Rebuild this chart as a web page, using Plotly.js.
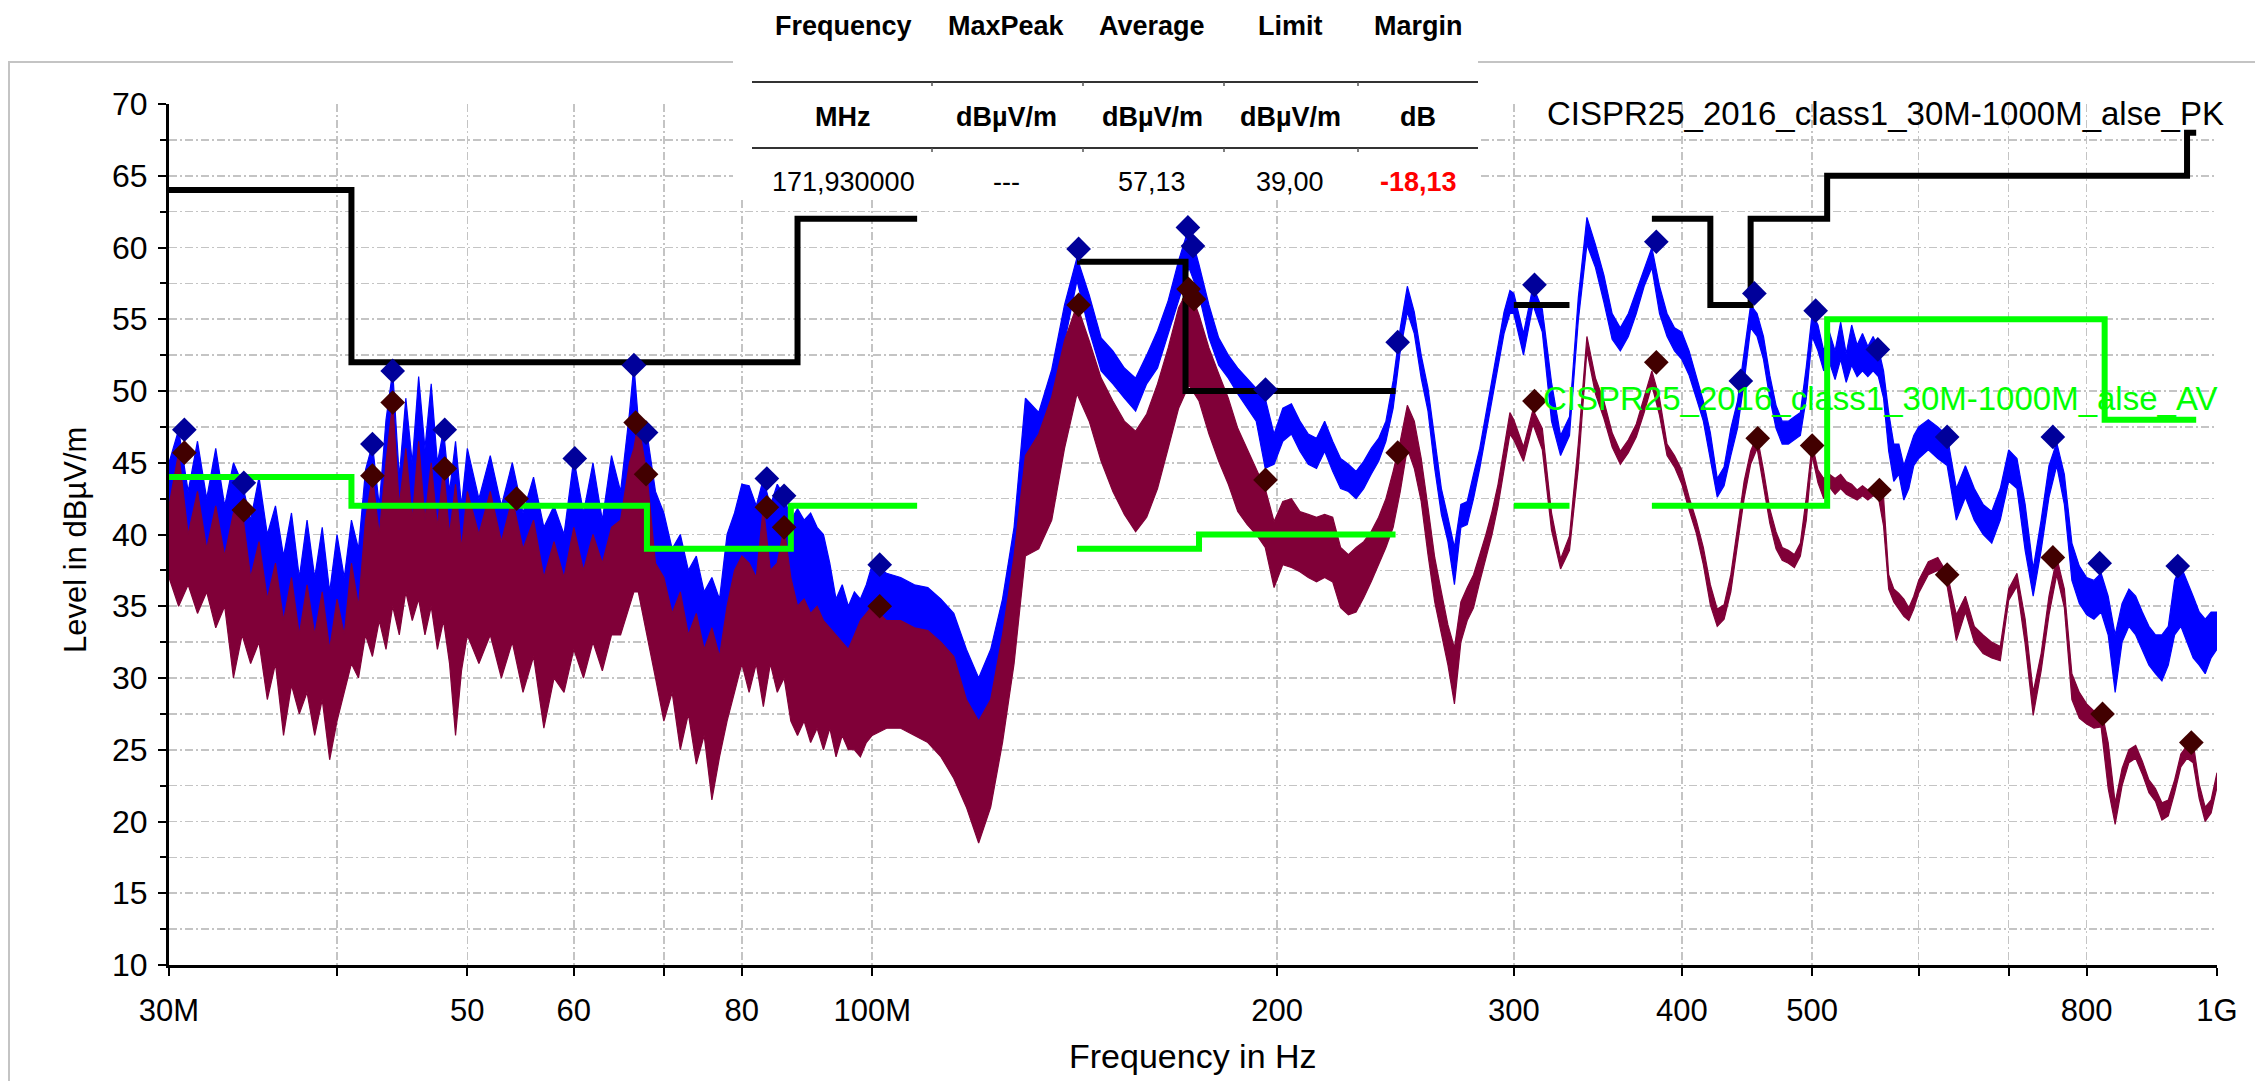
<!DOCTYPE html>
<html><head><meta charset="utf-8">
<script src="https://cdn.plot.ly/plotly-3.0.1.min.js"></script>
<style>html,body{margin:0;padding:0;background:#fff;}#chart{width:2255px;height:1081px;}</style>
</head><body><div id="chart"></div>
<script>
// ---------------- DATA (frequency in MHz, level in dBµV/m) ----------------
// Low-frequency segment 30-130 MHz
const freqLF = [30,30.5,31,31.5,32,32.5,33,33.5,34,34.5,35,35.5,36,36.5,37,37.5,38,38.5,39,39.5,40,40.5,41,41.5,42,42.5,43,43.5,44,44.5,45,45.5,46,46.5,47,47.5,48,48.5,49,49.5,50,
51,52,53,54,55,56,57,58,59,60,61,62,63,64,65,66,66.5,67,68,69,70,71,72,73,74,75,76,77,78,79,80,
81,82,83,84,85,86,87,88,89,90,91,92,93,94,95,96,97,98,99,100,
102.5,105,107.5,110,112.5,115,117.5,120,122.5,125,127.5,130];
const peakHiLF = [45,47.3,43,46.5,42.5,46,42,45,43.6,41,44,40,42,38.5,41.5,37,41,37,40.5,36,40,37,41,39,44.5,46.3,42,48,51.4,44,49.5,45,51,46,50.5,45,47.3,43,46.5,42,46,
42.5,45.5,42,45,41.5,44,40.5,42,40,45.3,41.5,45,41,45.5,43,48.5,51.8,48,47.1,43,41.5,39,40,37.5,38.5,36,37,35.5,40,41.5,43.5,
43.4,42,43.9,42,43.5,42.7,41,41.8,41,41.5,40.5,40,38,35.5,36.5,35,36,35.5,36.5,37.9,
37.3,37,36.5,36.3,35.5,34.5,32,30,32,35.5,40.5,49.5];
const peakLoLF = [40,40,39,39,38,38,37,37,36,36,35,34,33,32.5,32,32,32,31.5,31,31,31,32,33,34,35,36,37,38,38,38,38,37,37,37,36,36,36,35,35,35,35,
35,35,34.5,34,34,34,33.5,33,34,35,35,35,35.5,36,37,38,39,39,38,36,35,33.5,33,32,31.5,31,31,30.8,32,34,36,
36,36,36,36,35.5,35.5,35,34.5,34,33.5,33,32.5,32,31.5,31.5,31.5,32,32.5,33,33.5,
33.5,33.3,33,32.8,32,31,28.5,26.8,28.5,32.5,37.5,45.5];
const avgHiLF = [42,45.7,40,43,39,42,38.5,41.5,41.7,37,39.5,35.5,38,34,37,33,36.5,33,36,32,35.5,33,38,35,41,44.1,40,45,49.2,42,46,41,46.5,41,45,40.5,44.6,40,43.5,39,43,
40,43,39.5,42.5,39,41,37,39.5,37,40.5,37.5,40,38,40.5,41,45,46,47.8,44.2,38,37,34.5,36,33,34.5,32,33.5,31.5,35,37.5,38.5,
38,37,41.9,37.5,38,40.5,37,35,35.5,34.5,35,34,33.5,33,32.5,32,33,34,34.5,35,
34,34,33.5,33.3,32.5,31.5,28.5,27,28.5,33,38.5,45.5];
const avgLoLF = [37,35,36.5,34.5,36,33.5,35,30,33,31,32.5,28.5,31,26,29.5,27.5,29,26,28.5,24.3,27,29,31,30,33,31.5,34,32,35,33,36,34,35.5,33,35,32,34,31,26,30.5,33,
31,33,30,32.5,29,31.5,26.5,30,29,32,30,32.5,30.5,33,33,35,36,36,33,30,27,29,25,27.5,24,26,21.5,24.5,27,29,31,
29,31,28,31,29,30,27,26,27,25.5,26.5,25,26.5,24.5,26,25,25,24.5,25.5,26,
26.5,26.5,26,25.5,24.5,23,21,18.5,21,25.5,31,38.5];

// Mid segment 133-298 MHz
const freqMF = [133,136,139,142,145,148,151,154,157,160,163,166,169,172,175,178,181,184,187,190,193,196,199,202,205,208,211,214,217,220,223,226,229,232,235,238,241,244,247,250,253,256,259,262,265,268,271,274,277,280,283,286,289,292,295,298];
const peakHiMF = [48.5,51.5,56,59.3,56.7,53.7,52.8,51.6,50.9,52.5, 54.2,56.3,59.1,61.4,58.8,56,53.7,52.5,51.6,50.9, 50.2,49.5,47,48.8,49.1,47.9,47,46.7,47.9,46.5, 45.3,44.9,44.4,45.1,46,46.7,47.9,50.7,54.4,57.3, 55.5,52.5,50.2,46.7,43.2,41.2,39.1,42.1,42.3,44.2, 46,48.4,50.7,53,55.5,57];
const peakLoMF = [46.5,49,53.5,57.7,54.2,51.4,50.5,49.5,48.6,50.5, 51.6,53.9,56.3,58.6,56.7,53.7,51.8,50.9,49.8,48.8, 47.9,44.6,44.9,46.5,47,45.8,44.9,44.6,45.8,44.4, 43.2,43,42.5,43.2,44.2,45.1,46.5,48.8,52.8,55.5, 54,50.9,48.6,44.6,41.4,39.5,36.5,40.5,40.7,42.5, 44.6,47,49.3,51.6,54,55.4];
const avgHiMF = [47,49.6,53.5,56,53.5,50.9,49.3,47.9,47.2,48.4, 50.5,53,55.8,57.2,55.3,53,51.2,49.5,47.4,46, 44.6,43.2,40.9,42.3,42.5,41.6,41.4,41.2,41.4,41.2, 39.1,38.6,39.1,39.5,40.2,41.2,42.5,44.4,46.5,49, 47.9,45.3,41.9,38.4,36,33.7,32.1,35.3,36.3,37.2, 38.6,40,41.6,43.5,46,48.5];
const avgLoMF = [39,41,46,49.8,47.9,45.1,43,41.4,40.2,41.2, 43.2,46,48.8,50.4,49.3,47,45.1,43.5,41.6,40.7, 40,39.1,36.3,37.9,37.7,37.4,37,36.7,37,36.7, 34.9,34.4,34.6,35.6,36.7,37.9,39.1,40.5,43,46, 44.6,42.3,38.6,35.3,33.2,30.9,28.2,32.5,34,34.9, 36.7,38.4,40,42,44.5,47];

// High segment 300-600 MHz
const freqHF1 = [300,305,310,315,320,325,330,335,340,345,350,355,360,365,370,375,380,385,390,395,400,405,410,415,420,425,430,435,440,445,450,455,460,465,470,475,480,485,490,495,500,505,510,515,520,525,530,535,540,545,550,555,560,565,570,575,580,585,590,595,600];
const peakHiHF1 = [56.8,54,57.3,55.7,50.6,46.9,48.2,56.5,62.1,60.2, 58.1,55.4,54.4,55.4,57,58.6,60,57.3,55.4,54.4, 54.1,52.8,51.1,49.3,47.1,43.9,44.7,47.4,49.3,52.8, 56,55.4,53.8,51.1,49,47.9,47.9,48.2,48.5,51.7, 55.4,54.6,52.8,54.1,52.8,54.8,52.6,54.6,53.2,54, 53.1,53.8,53,51.4,48.5,46.3,46.3,44.8,45.9,46.9, 47.5];
const peakLoHF1 = [55.4,52.5,56,54.1,47.9,45.5,46.9,54.9,60.2,58.6, 56.2,53.6,52.8,53.8,55.4,57.3,58.6,55.4,53.8,52.8, 52.2,51.1,49.5,47.9,45.3,42.6,43.4,45.5,47.4,50.6, 54.4,53.8,52.2,49.5,47.4,46.3,46.3,46.6,46.9,49.5, 53.8,52.8,51.4,52,50.8,52.2,50.6,51.8,51,51.4, 51,51.4,51,49.5,45.8,43.7,44.2,42.4,43.2,44.8, 45.3];
const avgHiHF1 = [48,46.1,48.7,47.4,41.5,38.3,39.9,46.3,53.8,50.9, 49.3,47.1,45.8,46.6,47.7,49.5,51.4,49.5,46.3,45.5, 44.5,42.6,41,39.1,36.5,34.8,35.1,37.2,40.5,43.7, 45.8,46.9,44.5,41.8,40.2,39.1,38.9,38.6,39.4,42.6, 46.3,44.5,43.9,44.2,43.9,44.2,43.7,43.5,43.1,43.4, 43.1,43.4,43.4,42.6,37.2,36.2,35.9,35.5,34.9,35.7, 36.8];
const avgLoHF1 = [46.6,45.1,47.7,45.9,40.3,37.6,38.9,44.6,52.8,49.8, 48.1,46.1,44.9,45.7,46.8,48.5,50.4,48.3,45.5,44.7, 43.5,41.7,40.1,37.9,35.1,33.6,34.1,36,39.3,42.5, 44.9,46,43.4,40.8,39,38.2,38,37.7,38.5,41, 45.5,43.6,42.5,43.3,42.8,43.2,42.8,42.6,42.4,42.7, 42.4,42.7,42.6,40.6,36.2,35.3,34.8,34.3,34,34.8, 35.9];

// High segment 610-1000 MHz
const freqHF2 = [610,620,630,640,650,660,670,680,690,700,710,720,730,740,750,760,770,780,790,800,810,820,830,840,850,860,870,880,890,900,910,920,930,940,950,960,970,980,990,1000];
const peakHiHF2 = [48,47.5,46.9,43.2,44.8,43.2,42.1,41.6,43.2,45.9, 45.3,42.1,37.6,41,44.8,46.4,44.2,39.4,37.8,37, 36.8,37.3,35.7,33,35.2,36.2,35.7,34.6,33.6,33, 33,33.6,36.8,37.8,36.8,35.7,34.6,34.1,34.6,34.6];
const peakLoHF2 = [45.9,45.3,44.8,41,42.6,41,40,39.4,41,43.7, 43.2,38.9,35.7,38.9,42.6,44.8,42.1,36.8,35.2,34.4, 34.1,34.6,33,29,32.5,33.6,33,32,30.9,30.3, 29.8,30.9,33,33.6,32.5,31.4,30.9,30.3,31.4,32];
const avgHiHF2 = [38.1,38.4,37.3,34.4,35.7,33.6,33,32.5,32.2,36.2, 37.3,34.1,29,31.7,35.7,38.4,36.2,30.3,29,28.2, 27.7,27.9,25.5,21.3,23.7,25,25.3,24.2,22.9,22.3, 21.3,21.5,22.9,24.7,25.3,25.5,22.6,21,21.5,23.4];
const avgLoHF2 = [37.2,37.5,36.4,32.6,34.6,32.5,31.7,31.4,31.2,35.4, 36.4,32.4,27.4,30.5,34.4,37.2,34.9,28.5,27.2,26.8, 26.5,26.6,22.3,19.8,22.5,24.1,24.4,23.3,22,21.4, 20.1,20.4,22,23.8,24.4,24.1,21.6,20,20.6,22.4];

// Limit lines (null = gap between bands)
const limitPkFreq  = [30,41,41,88,88,108,null,142,171,171,245,null,300,330,null,380,420,420,450,450,513,513,950,950,965];
const limitPkLevel = [64,64,52,52,62,62,null,59,59,50,50,null,56,56,null,62,62,56,56,62,62,65,65,68,68];
const limitAvFreq  = [30,41,41,68,68,87,87,108,null,142,175,175,245,null,300,330,null,380,513,513,825,825,965];
const limitAvLevel = [44,44,42,42,39,39,42,42,null,39,39,40,40,null,42,42,null,42,42,55,55,48,48];

// Final measurement markers
const peakMarkFreq  = [30.8,34.1,42.5,44.0,48.1,60.1,66.5,67.9,83.5,86.0,101.3,142.4,171.7,173.2,196.1,245.9,310.8,382.9,442.5,452.9,503,559.5,630,755,818,935];
const peakMarkLevel = [47.3,43.6,46.3,51.4,47.3,45.3,51.8,47.1,43.9,42.7,37.9,59.9,61.4,60.1,50.1,53.4,57.4,60.4,50.7,56.8,55.6,52.9,46.8,46.8,38.0,37.8];
const avgMarkFreq   = [30.8,34.1,42.5,44.0,48.1,54.4,66.7,67.9,83.5,86.0,101.3,142.4,171.9,173.5,196.1,245.9,310.8,382.9,455.5,500,561,630,755,822,957];
const avgMarkLevel  = [45.7,41.7,44.1,49.2,44.6,42.5,47.8,44.2,41.9,40.5,35.0,56.0,57.1,56.4,43.8,45.7,49.3,52.0,46.7,46.2,43.1,37.2,38.4,27.5,25.5];

// Axis ticks
const xTickVals = [30,40,50,60,70,80,100,200,300,400,500,600,700,800,1000];
const xTickText = ['30M','','50','60','','80','100M','200','300','400','500','','','800','1G'];
const yTickVals = [10,15,20,25,30,35,40,45,50,55,60,65,70];

// Table
const tableHead  = ['Frequency','MaxPeak','Average','Limit','Margin'];
const tableUnits = ['MHz','dBµV/m','dBµV/m','dBµV/m','dB'];
const tableRow   = ['171,930000','---','57,13','39,00','-18,13'];
const pkLabel = 'CISPR25_2016_class1_30M-1000M_alse_PK';
const avLabel = 'CISPR25_2016_class1_30M-1000M_alse_AV';

// ---------------- LAYOUT ----------------
const W = 2255, H = 1081;
const M = {l:169, r:38, t:104, b:116};
const PW = W - M.l - M.r, PH = H - M.t - M.b;
const px = X => (X - M.l) / PW;
const py = Y => (H - M.b - Y) / PH;
const FONT = 'Liberation Sans, Arial, Helvetica, sans-serif';
const BLUE = '#0000ff', MAROON = '#800038', GREEN = '#00ff00';

const freqAll = freqLF.concat(freqMF, freqHF1, freqHF2);
const pkHi = peakHiLF.concat(peakHiMF, peakHiHF1, peakHiHF2);
const pkLo = peakLoLF.concat(peakLoMF, peakLoHF1, peakLoHF2);
const avHi = avgHiLF.concat(avgHiMF, avgHiHF1, avgHiHF2);
const avLo = avgLoLF.concat(avgLoMF, avgLoHF1, avgLoHF2);

function band(f, hi, lo, color) {
  return {
    x: f.concat(f.slice().reverse()),
    y: hi.concat(lo.slice().reverse()),
    mode: 'lines', fill: 'toself', fillcolor: color,
    line: {color: color, width: 1.2}, hoverinfo: 'skip', showlegend: false
  };
}

const traces = [
  band(freqAll, pkHi, pkLo, BLUE),
  band(freqAll, avHi, avLo, MAROON),
  {x: limitAvFreq, y: limitAvLevel, mode: 'lines', line: {color: GREEN, width: 6}, connectgaps: false, hoverinfo: 'skip'},
  {x: limitPkFreq, y: limitPkLevel, mode: 'lines', line: {color: '#000000', width: 6}, connectgaps: false, hoverinfo: 'skip'},
  {x: peakMarkFreq, y: peakMarkLevel, mode: 'markers', marker: {symbol: 'diamond', size: 19, color: '#00009a'}, hoverinfo: 'skip'},
  {x: avgMarkFreq, y: avgMarkLevel, mode: 'markers', marker: {symbol: 'diamond', size: 19, color: '#420000'}, hoverinfo: 'skip'}
];

const colX = [843, 1006, 1152, 1290, 1418];
const annotations = [];
colX.forEach((X, i) => {
  annotations.push({xref:'paper', yref:'paper', x: px(X), y: py(26), xanchor:'center', yanchor:'middle', showarrow:false,
    text: '<b>' + tableHead[i] + '</b>', font: {family: FONT, size: 27, color: '#000'}});
  annotations.push({xref:'paper', yref:'paper', x: px(X), y: py(117), xanchor:'center', yanchor:'middle', showarrow:false,
    text: '<b>' + tableUnits[i] + '</b>', font: {family: FONT, size: 27, color: '#000'}});
  annotations.push({xref:'paper', yref:'paper', x: px(X), y: py(182), xanchor:'center', yanchor:'middle', showarrow:false,
    text: i === 4 ? '<b>' + tableRow[i] + '</b>' : tableRow[i], font: {family: FONT, size: 27, color: i === 4 ? '#ff0000' : '#000'}});
});
annotations.push({xref:'paper', yref:'paper', x: px(1545), y: py(113), xanchor:'left', yanchor:'middle', showarrow:false,
  text: pkLabel, font: {family: FONT, size: 33, color: '#000'}});
annotations.push({xref:'paper', yref:'paper', x: px(1541), y: py(399), xanchor:'left', yanchor:'middle', showarrow:false,
  text: avLabel, font: {family: FONT, size: 33, color: GREEN}});
annotations.push({xref:'paper', yref:'paper', x: px(1193), y: py(1056), xanchor:'center', yanchor:'middle', showarrow:false,
  text: 'Frequency in Hz', font: {family: FONT, size: 34, color: '#000'}});
annotations.push({xref:'paper', yref:'paper', x: px(75), y: py(540), xanchor:'center', yanchor:'middle', showarrow:false, textangle: -90,
  text: 'Level in dBµV/m', font: {family: FONT, size: 31, color: '#000'}});

const shapes = [
  {type:'rect', xref:'paper', yref:'paper', x0: px(9), x1: px(2275), y0: py(62), y1: py(1100), line:{color:'#c4c4c4', width:2}, layer:'below'},
  {type:'rect', xref:'paper', yref:'paper', x0: px(733), x1: px(1478), y0: py(200), y1: py(-20), fillcolor:'#ffffff', line:{width:0}, layer:'above'},
  {type:'line', xref:'paper', yref:'paper', x0: px(752), x1: px(1478), y0: py(82), y1: py(82), line:{color:'#333', width:2}, layer:'above'},
  {type:'line', xref:'paper', yref:'paper', x0: px(752), x1: px(1478), y0: py(148), y1: py(148), line:{color:'#333', width:2}, layer:'above'}
];
[932, 1083, 1224, 1358].forEach(X => {
  [82, 148].forEach(Y => shapes.push({type:'line', xref:'paper', yref:'paper', x0: px(X), x1: px(X), y0: py(Y), y1: py(Y + 4), line:{color:'#555', width:1.5}, layer:'above'}));
});

const GRID = '#c4c4c4', GDASH = '8px,3px,2px,3px';
const layout = {
  width: W, height: H, margin: M,
  paper_bgcolor: '#ffffff', plot_bgcolor: '#ffffff',
  showlegend: false,
  font: {family: FONT, color: '#000'},
  xaxis: {
    type: 'log', range: [Math.log10(30), 3],
    tickmode: 'array', tickvals: xTickVals, ticktext: xTickText,
    tickfont: {family: FONT, size: 31, color: '#000'},
    ticks: 'outside', ticklen: 8, tickwidth: 2, tickcolor: '#000', ticklabelstandoff: 8,
    showgrid: true, gridcolor: GRID, gridwidth: 1.6, griddash: GDASH,
    showline: true, linecolor: '#000', linewidth: 3, zeroline: false, fixedrange: true
  },
  yaxis: {
    range: [10, 70], tickmode: 'array', tickvals: yTickVals,
    tickfont: {family: FONT, size: 32, color: '#000'},
    ticks: 'outside', ticklen: 8, tickwidth: 2, tickcolor: '#000', ticklabelstandoff: 4,
    showgrid: true, gridcolor: GRID, gridwidth: 1.6, griddash: GDASH,
    minor: {dtick: 2.5, tick0: 10, showgrid: true, gridcolor: GRID, gridwidth: 1.6, griddash: GDASH, ticks: 'outside', ticklen: 6, tickwidth: 2, tickcolor: '#000'},
    showline: true, linecolor: '#000', linewidth: 3, zeroline: false, fixedrange: true
  },
  annotations: annotations,
  shapes: shapes
};

Plotly.newPlot('chart', traces, layout, {staticPlot: true, displayModeBar: false});
</script></body></html>
